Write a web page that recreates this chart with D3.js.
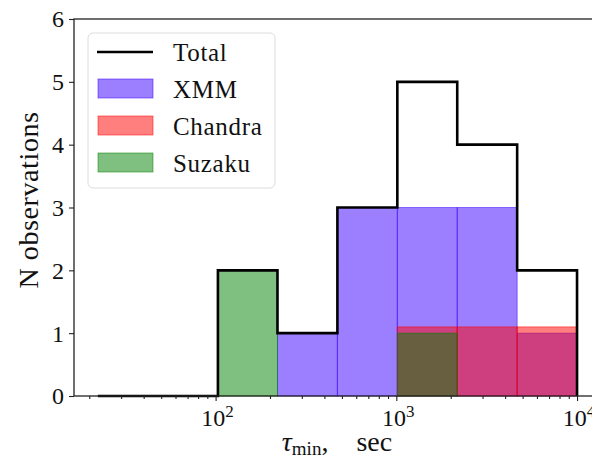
<!DOCTYPE html>
<html>
<head>
<meta charset="utf-8">
<script src="https://cdn.jsdelivr.net/npm/d3@7"></script>
<style>
  html, body { margin: 0; padding: 0; background: #fff; }
  svg { display: block; }
  text { font-family: "Liberation Serif", "DejaVu Serif", serif; fill: #111; }
</style>
</head>
<body>
<svg id="chart" width="592" height="460"></svg>
<script>
// Histogram bin edges (seconds, log-spaced)
const binEdges = [22.3, 47.9, 103, 220, 472, 1013, 2173, 4663, 10000];

// Counts per bin
const totalCounts   = [0, 0, 2, 1, 3, 5, 4, 2];
const xmmCounts     = [0, 0, 0, 1, 3, 3, 3, 1];
const chandraCounts = [0, 0, 0, 0, 0, 1.1, 1.1, 1.1];
const suzakuCounts  = [0, 0, 2, 0, 0, 1, 0, 0];

// Axis ticks
const xMajorTicks = [100, 1000, 10000];
const xTickExponents = ["2", "3", "4"];
const yTicks = [0, 1, 2, 3, 4, 5, 6];

const seriesNames = ["XMM", "Chandra", "Suzaku"];
const seriesColors = ["#3a00ff", "#ff0000", "#008000"];
const seriesCounts = [xmmCounts, chandraCounts, suzakuCounts];

(function draw() {
  const svg = d3.select("#chart");
  const mLeft = 74, mRight = 601, mTop = 19, mBottom = 396;

  const x = d3.scaleLog()
    .domain([Math.pow(10, 1.2165), Math.pow(10, 4.1326)])
    .range([mLeft, mRight]);
  const y = d3.scaleLinear().domain([0, 6]).range([mBottom, mTop]);

  // Filled bars for each instrument, drawn in order so overlaps blend
  seriesCounts.forEach((counts, si) => {
    const bins = counts.map((c, i) => ({ x0: binEdges[i], x1: binEdges[i + 1], c }))
      .filter(d => d.c > 0);
    svg.append("g").selectAll("rect").data(bins).join("rect")
      .attr("x", d => x(d.x0))
      .attr("width", d => x(d.x1) - x(d.x0))
      .attr("y", d => y(d.c))
      .attr("height", d => y(0) - y(d.c))
      .attr("fill", seriesColors[si])
      .attr("fill-opacity", 0.5)
      .attr("stroke", seriesColors[si])
      .attr("stroke-opacity", 0.5)
      .attr("stroke-width", 1);
  });

  // Total outline as a step curve
  const stepPts = [[binEdges[0], 0]];
  totalCounts.forEach((c, i) => {
    stepPts.push([binEdges[i], c]);
    stepPts.push([binEdges[i + 1], c]);
  });
  stepPts.push([binEdges[binEdges.length - 1], 0]);
  svg.append("path")
    .attr("d", d3.line().x(d => x(d[0])).y(d => y(d[1]))(stepPts))
    .attr("fill", "none")
    .attr("stroke", "#000")
    .attr("stroke-width", 2.6)
    .attr("stroke-linejoin", "miter");

  // Axes
  const xAxis = d3.axisBottom(x)
    .tickValues(xMajorTicks).tickSize(5).tickFormat("");
  const minorTicks = [];
  [10, 100, 1000].forEach(dec => {
    for (let k = 2; k <= 9; k++) {
      const v = k * dec;
      if (v >= x.domain()[0] && v <= x.domain()[1]) minorTicks.push(v);
    }
  });
  const xMinor = d3.axisBottom(x).tickValues(minorTicks).tickSize(3).tickFormat("");
  const yAxis = d3.axisLeft(y).tickValues(yTicks).tickSize(5).tickFormat("");

  const gx = svg.append("g").attr("transform", `translate(0,${mBottom})`).call(xAxis);
  const gxm = svg.append("g").attr("transform", `translate(0,${mBottom})`).call(xMinor);
  const gy = svg.append("g").attr("transform", `translate(${mLeft},0)`).call(yAxis);
  [gx, gxm, gy].forEach(g => {
    g.select(".domain").remove();
    g.selectAll("line").attr("stroke", "#222").attr("stroke-width", 1.1);
  });

  // Spines
  svg.append("rect")
    .attr("x", mLeft).attr("y", mTop)
    .attr("width", mRight - mLeft).attr("height", mBottom - mTop)
    .attr("fill", "none").attr("stroke", "#222").attr("stroke-width", 1.3);

  // Tick labels
  const tickFont = 24;
  gy.selectAll(".tick").append("text")
    .attr("x", -10).attr("y", tickFont * 0.33)
    .attr("text-anchor", "end")
    .style("font-size", tickFont + "px")
    .text(d => d);

  xMajorTicks.forEach((v, i) => {
    const t = svg.append("text")
      .attr("x", x(v) + 2).attr("y", 426)
      .attr("text-anchor", "middle")
      .style("font-size", tickFont + "px");
    t.append("tspan").text("10");
    t.append("tspan").attr("dy", -9).style("font-size", "17px").text(xTickExponents[i]);
  });

  // Axis labels
  svg.append("text")
    .attr("transform", "translate(38,200) rotate(-90)")
    .attr("text-anchor", "middle")
    .style("font-size", "28px")
    .style("letter-spacing", "0.6px")
    .text("N observations");

  const xl = svg.append("text")
    .attr("x", 337).attr("y", 451)
    .attr("text-anchor", "middle")
    .style("font-size", "28px");
  xl.append("tspan").style("font-style", "italic").text("τ");
  xl.append("tspan").attr("dy", 4).style("font-size", "19px").text("min");
  xl.append("tspan").attr("dy", -4).text(",\u2003sec");

  // Legend
  const lg = svg.append("g");
  lg.append("rect")
    .attr("x", 88).attr("y", 33).attr("width", 187).attr("height", 155)
    .attr("rx", 5)
    .attr("fill", "#fff").attr("fill-opacity", 0.85)
    .attr("stroke", "#dcdcdc").attr("stroke-width", 1);

  const legendFont = 25;
  lg.append("line")
    .attr("x1", 97).attr("x2", 153).attr("y1", 52).attr("y2", 52)
    .attr("stroke", "#000").attr("stroke-width", 2.6);
  lg.append("text").attr("x", 173).attr("y", 61)
    .style("font-size", legendFont + "px").style("letter-spacing", "0.7px").text("Total");

  seriesNames.forEach((name, i) => {
    const yb = 98 + i * 37;
    lg.append("rect")
      .attr("x", 98).attr("y", yb - 19).attr("width", 55).attr("height", 19)
      .attr("fill", seriesColors[i]).attr("fill-opacity", 0.5)
      .attr("stroke", seriesColors[i]).attr("stroke-opacity", 0.5).attr("stroke-width", 1);
    lg.append("text").attr("x", 173).attr("y", yb)
      .style("font-size", legendFont + "px").style("letter-spacing", "0.7px").text(name);
  });
})();
</script>
</body>
</html>
